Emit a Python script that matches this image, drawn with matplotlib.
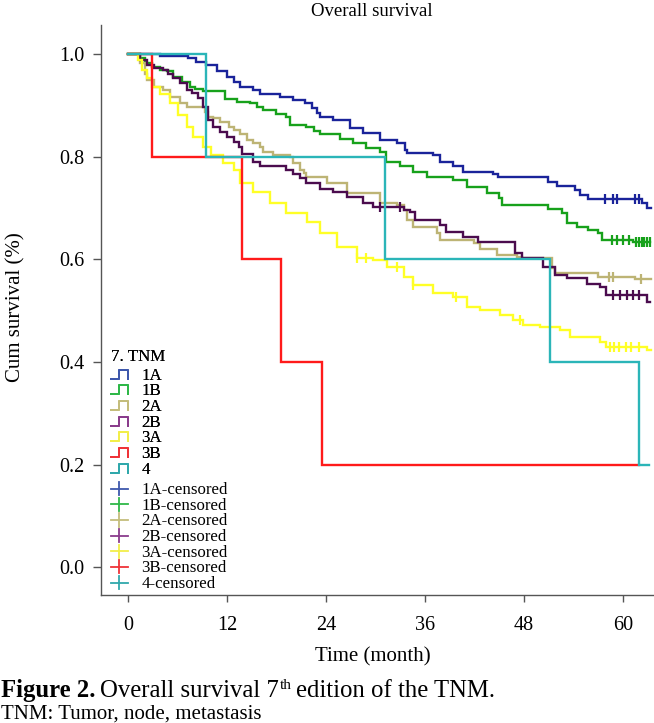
import matplotlib
matplotlib.use("Agg")
import matplotlib.pyplot as plt
from matplotlib.lines import Line2D
from matplotlib.legend_handler import HandlerBase
import numpy as np

plt.rcParams['font.family'] = ['Liberation Serif', 'DejaVu Serif']

# ---------------- data ----------------
groups = ['1A', '1B', '2A', '2B', '3A', '3B', '4']

t_1A = [0, 3.9, 7.3, 8.3, 9.5, 10.8, 12.0, 12.8, 13.6, 15.2, 16.0, 18.4, 20.0, 21.5, 22.3,
        22.9, 23.3, 24.9, 26.9, 28.5, 30.6, 32.6, 33.6, 33.8, 37.0, 37.8, 39.4, 40.6, 44.3,
        44.9, 50.9, 52.0, 54.2, 54.8, 55.8, 62.3, 62.9]
s_1A = [1.0, 0.996, 0.992, 0.985, 0.979, 0.966, 0.956, 0.946, 0.936, 0.930, 0.922, 0.916,
        0.910, 0.905, 0.894, 0.885, 0.878, 0.872, 0.855, 0.846, 0.833, 0.826, 0.813, 0.807,
        0.803, 0.790, 0.781, 0.771, 0.767, 0.760, 0.751, 0.743, 0.735, 0.725, 0.717, 0.709, 0.700]
end_1A = 63.4
cens_1A = [57.8, 58.8, 59.3, 61.5, 62.0]

t_1B = [0, 1.45, 2.1, 2.9, 3.9, 4.7, 5.5, 6.5, 7.5, 8.1, 9.1, 11.8, 13.2, 14.8, 15.6, 16.4,
        18.0, 19.2, 19.6, 21.6, 22.5, 23.3, 25.7, 27.3, 28.9, 30.5, 31.3, 33.0, 34.6, 36.2,
        39.4, 41.1, 43.5, 45.0, 45.3, 50.9, 52.6, 53.2, 54.4, 55.7, 57.0, 57.4, 61.2]
s_1B = [1.0, 0.992, 0.982, 0.975, 0.969, 0.966, 0.956, 0.946, 0.936, 0.931, 0.927, 0.912,
        0.907, 0.904, 0.897, 0.890, 0.884, 0.877, 0.862, 0.857, 0.851, 0.844, 0.834, 0.826,
        0.816, 0.810, 0.790, 0.782, 0.771, 0.761, 0.754, 0.741, 0.729, 0.720, 0.706, 0.699,
        0.690, 0.671, 0.664, 0.657, 0.651, 0.638, 0.634]
end_1B = 63.3
cens_1B = [58.7, 59.3, 60.0, 60.7, 61.6, 62.0, 62.3, 62.6, 62.9, 63.3]

t_2A = [0, 1.45, 2.1, 2.3, 3.1, 4.3, 5.1, 6.3, 7.1, 9.3, 9.7, 10.3, 11.2, 12.3, 12.8, 13.6,
        14.4, 15.2, 16.0, 16.4, 17.6, 19.6, 20.0, 20.9, 21.3, 21.6, 24.1, 26.5, 30.5, 32.6,
        33.4, 33.8, 34.6, 37.4, 37.8, 41.9, 42.7, 44.7, 47.1, 47.7, 51.4, 51.8, 57.0, 61.5]
s_2A = [1.0, 0.982, 0.962, 0.949, 0.936, 0.930, 0.917, 0.904, 0.897, 0.888, 0.878, 0.875,
        0.868, 0.858, 0.852, 0.845, 0.832, 0.826, 0.819, 0.810, 0.803, 0.799, 0.787, 0.774,
        0.768, 0.761, 0.748, 0.729, 0.709, 0.706, 0.696, 0.677, 0.664, 0.651, 0.638, 0.631,
        0.621, 0.609, 0.605, 0.602, 0.583, 0.573, 0.566, 0.561]
end_2A = 63.4
cens_2A = [58.3, 58.8, 62.2]

t_2B = [0, 1.45, 2.3, 3.1, 4.3, 4.9, 5.5, 6.3, 7.1, 7.7, 8.5, 9.1, 9.7, 10.3, 11.2, 12.0,
        12.8, 13.4, 13.8, 15.2, 16.0, 19.2, 20.0, 20.9, 21.6, 23.3, 24.9, 26.5, 28.5, 29.7,
        33.4, 34.2, 34.8, 37.8, 38.6, 40.6, 42.4, 46.9, 47.7, 50.3, 51.8, 53.2, 55.6, 57.2,
        58.0, 62.9]
s_2B = [1.0, 0.988, 0.979, 0.972, 0.969, 0.962, 0.953, 0.943, 0.930, 0.924, 0.914, 0.897,
        0.872, 0.858, 0.849, 0.839, 0.829, 0.819, 0.806, 0.790, 0.781, 0.774, 0.767, 0.758,
        0.748, 0.738, 0.732, 0.722, 0.709, 0.703, 0.696, 0.693, 0.677, 0.667, 0.654, 0.644,
        0.634, 0.612, 0.602, 0.586, 0.570, 0.563, 0.553, 0.547, 0.531, 0.518]
end_2B = 63.3
cens_2B = [30.5, 33.0, 58.8, 59.6, 60.5, 61.2, 62.0]

t_3A = [0, 1.25, 1.7, 2.3, 2.9, 3.9, 5.1, 6.1, 7.1, 7.9, 9.1, 10.1, 11.5, 12.8, 13.6, 15.2,
        17.2, 19.2, 21.7, 23.3, 25.3, 27.7, 29.7, 31.4, 33.4, 34.6, 37.0, 39.4, 41.1, 42.7,
        45.1, 46.7, 47.9, 49.9, 52.4, 53.6, 57.2, 58.0, 62.9]
s_3A = [1.0, 0.988, 0.969, 0.953, 0.936, 0.923, 0.904, 0.881, 0.858, 0.839, 0.819, 0.803,
        0.787, 0.774, 0.748, 0.732, 0.709, 0.690, 0.673, 0.651, 0.625, 0.602, 0.599, 0.586,
        0.566, 0.550, 0.534, 0.527, 0.508, 0.501, 0.492, 0.482, 0.472, 0.468, 0.462, 0.448,
        0.440, 0.430, 0.424]
end_3A = 63.4
cens_3A = [27.7, 28.9, 32.6, 34.6, 39.8, 47.5, 58.4, 58.9, 59.5, 60.4, 61.0, 62.0]

t_3B = [0, 2.9, 13.8, 18.6, 23.5]
s_3B = [1.0, 0.8, 0.6, 0.4, 0.2]
end_3B = 61.9
cens_3B = []

t_4 = [0, 9.5, 31.2, 51.1, 62.0]
s_4 = [1.0, 0.8, 0.6, 0.4, 0.2]
end_4 = 63.1
cens_4 = []

times = [t_1A, t_1B, t_2A, t_2B, t_3A, t_3B, t_4]
survs = [s_1A, s_1B, s_2A, s_2B, s_3A, s_3B, s_4]
ends = [end_1A, end_1B, end_2A, end_2B, end_3A, end_3B, end_4]
censs = [cens_1A, cens_1B, cens_2A, cens_2B, cens_3A, cens_3B, cens_4]

line_colors = ['#1a239a', '#17a11b', '#bdb475', '#4b0c4e', '#ffff26', '#ff1a1a', '#2bb5b8']
legend_colors = ['#3e58ac', '#2eb848', '#c4bd7c', '#8a3c8c', '#f2ee4a', '#ef3338', '#30a8ab']

x_ticks = [0, 12, 24, 36, 48, 60]
y_ticks = [0.0, 0.2, 0.4, 0.6, 0.8, 1.0]

# ---------------- figure ----------------
W, H = 654, 723
fig = plt.figure(figsize=(W / 100, H / 100), dpi=100)
ax = fig.add_axes([101 / W, 1 - 595 / H, 553 / W, 570 / H])

for tt, ss, e, cc, col in zip(times, survs, ends, censs, line_colors):
    xs = list(tt) + [e]
    ys = list(ss) + [ss[-1]]
    ax.step(xs, ys, where='post', color=col, lw=1.7, solid_joinstyle='miter')
    if cc:
        idx = np.searchsorted(np.array(tt), np.array(cc), side='right') - 1
        cy = np.array(ss)[idx]
        ax.plot(cc, cy, linestyle='none', marker='|', color=col, markersize=7, mew=1.6)

ax.set_xlim(-3.27, 63.76)
ax.set_ylim(-0.0536, 1.0565)
ax.set_xticks(x_ticks)
ax.set_xticklabels([str(v) for v in x_ticks])
ax.set_yticks(y_ticks)
ax.set_yticklabels([f"{v:.1f}" for v in y_ticks])
for sp in ['top', 'right']:
    ax.spines[sp].set_visible(False)
for sp in ['left', 'bottom']:
    ax.spines[sp].set_color('#555555')
    ax.spines[sp].set_linewidth(1.0)
ax.tick_params(axis='y', length=6, width=1, color='#555555', pad=6, labelsize=14.5)
ax.tick_params(axis='x', length=5, width=1, color='#555555', pad=10, labelsize=14.5)


class StepHandler(HandlerBase):
    def create_artists(self, legend, orig_handle, xdescent, ydescent, width, height, fontsize, trans):
        c = orig_handle.get_color()
        x0 = -xdescent
        y0 = -ydescent
        xs = [x0, x0 + 0.45 * width, x0 + 0.45 * width, x0 + width, x0 + width]
        ys = [y0 + 0.1 * height, y0 + 0.1 * height, y0 + 0.85 * height, y0 + 0.85 * height, y0 + 0.1 * height]
        ln = Line2D(xs, ys, color=c, lw=1.4, transform=trans)
        return [ln]


class CensHandler(HandlerBase):
    def create_artists(self, legend, orig_handle, xdescent, ydescent, width, height, fontsize, trans):
        c = orig_handle.get_color()
        x0 = -xdescent
        y0 = -ydescent
        h = Line2D([x0, x0 + width], [y0 + 0.45 * height] * 2, color=c, lw=1.3, transform=trans)
        v = Line2D([x0 + width / 2] * 2, [y0 - 0.1 * height, y0 + 1.0 * height], color=c, lw=1.3, transform=trans)
        return [h, v]


step_handles = [Line2D([], [], color=c) for c in legend_colors]
cens_handles = [Line2D([], [], color=c, marker='+') for c in legend_colors]

leg_fs = 12.2
leg1 = fig.legend(step_handles, groups, title='7. TNM', loc='upper left',
                  bbox_to_anchor=(111 / W, 1 - 349 / H), frameon=False, fontsize=leg_fs,
                  title_fontsize=leg_fs, handler_map={Line2D: StepHandler()},
                  handlelength=1.0, handletextpad=0.8, labelspacing=-0.02, borderpad=0,
                  borderaxespad=0)
leg1._legend_box.align = 'left'
leg1._legend_box.sep = 2
fig.add_artist(leg1)
leg2 = fig.legend(cens_handles, [g + '-censored' for g in groups], loc='upper left',
                  bbox_to_anchor=(111 / W, 1 - 482 / H), frameon=False, fontsize=leg_fs,
                  handler_map={Line2D: CensHandler()},
                  handlelength=1.0, handletextpad=0.8, labelspacing=-0.02, borderpad=0,
                  borderaxespad=0)

# ---------------- texts ----------------
fig.text(372 / W, 1 - 11 / H, 'Overall survival', ha='center', va='center', fontsize=13.5)
fig.text(16 / W, 1 - 307 / H, 'Cum survival (%)', ha='center', va='center', rotation=90, fontsize=15)
fig.text(373 / W, 1 - 657 / H, 'Time (month)', ha='center', va='center', fontsize=15)

renderer = fig.canvas.get_renderer()
cap_y = 1 - 697 / H
t1 = fig.text(1 / W, cap_y, 'Figure 2.', fontweight='bold', fontsize=17.8, va='baseline')
bb = t1.get_window_extent(renderer)
x = bb.x1 + 5
t2 = fig.text(x / W, cap_y, 'Overall survival 7', fontsize=17.8, va='baseline')
bb = t2.get_window_extent(renderer)
x = bb.x1
t3 = fig.text(x / W, cap_y + 8 / H, 'th', fontsize=11, va='baseline')
bb = t3.get_window_extent(renderer)
x = bb.x1 + 5
fig.text(x / W, cap_y, 'edition of the TNM.', fontsize=17.8, va='baseline')
fig.text(1 / W, 1 - 719 / H, 'TNM: Tumor, node, metastasis', fontsize=15, va='baseline')

fig.savefig('out.png', dpi=100)
